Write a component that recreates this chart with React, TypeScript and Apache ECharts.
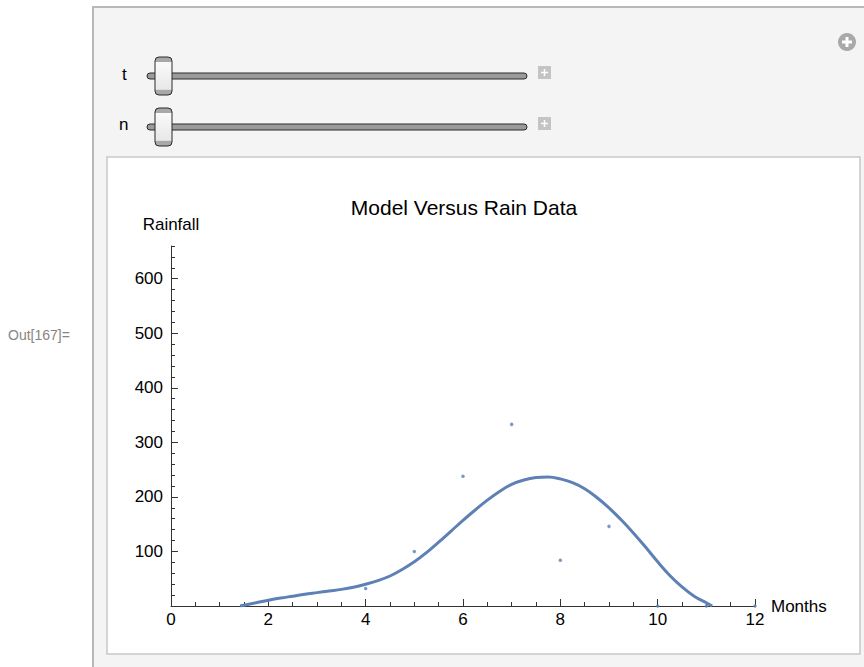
import React, { useEffect, useRef } from "react";
import * as echarts from "echarts";

// Observed rain data (month, rainfall)
const months = [4, 5, 6, 7, 8, 9, 10, 11, 12];
const rainfall = [32, 100, 238, 333, 84, 146, 0, 0, 0];

// Model curve
const modelMonths = [1.42, 1.5, 1.75, 2.0, 2.25, 2.5, 2.75, 3.0, 3.25, 3.5, 3.75, 4.0, 4.25, 4.5, 4.75, 5.0, 5.25, 5.5, 5.75, 6.0, 6.25, 6.5, 6.75, 7.0, 7.25, 7.5, 7.75, 8.0, 8.25, 8.5, 8.75, 9.0, 9.25, 9.5, 9.75, 10.0, 10.25, 10.5, 10.75, 11.0, 11.12];
const modelRain = [0, 1.5, 6, 10.5, 14.5, 18, 21.5, 24.5, 27.5, 30.5, 34.5, 40, 46.5, 55, 67, 81, 98, 117, 137, 157, 176, 194, 210, 223, 231, 235.5, 236.5, 233, 226, 215, 199, 180, 158, 134, 108, 81, 56, 35, 18, 6, 0];

// Axis ticks
const yMajorTicks = [100, 200, 300, 400, 500, 600];
const xMajorTicks = [0, 2, 4, 6, 8, 10, 12];

const FONT = "'Liberation Sans', Arial, sans-serif";
const BLUE = "#5E81B5";
const AXIS = "#333333";

function slider(y: number) {
  return [
    {
      type: "rect",
      shape: { x: 147, y: y - 3, width: 380, height: 6, r: 3 },
      style: { fill: "#9a9a9a", stroke: "#2a2a2a", lineWidth: 1 },
      z: 5,
    },
    {
      type: "rect",
      shape: { x: 155, y: y - 19, width: 17, height: 38, r: 4 },
      style: {
        fill: new echarts.graphic.LinearGradient(0, 0, 0, 1, [
          { offset: 0, color: "#a8a8a8" },
          { offset: 0.12, color: "#a8a8a8" },
          { offset: 0.14, color: "#fafafa" },
          { offset: 0.85, color: "#e8e8e8" },
          { offset: 0.88, color: "#a8a8a8" },
          { offset: 1, color: "#a8a8a8" },
        ]),
        stroke: "#2a2a2a",
        lineWidth: 1,
      },
      z: 6,
    },
    {
      type: "rect",
      shape: { x: 538, y: y - 10, width: 13, height: 13 },
      style: { fill: "#c4c4c4" },
      z: 5,
    },
    {
      type: "line",
      shape: { x1: 541, y1: y - 3.5, x2: 548, y2: y - 3.5 },
      style: { stroke: "#ffffff", lineWidth: 1.5 },
      z: 6,
    },
    {
      type: "line",
      shape: { x1: 544.5, y1: y - 7, x2: 544.5, y2: y },
      style: { stroke: "#ffffff", lineWidth: 1.5 },
      z: 6,
    },
  ];
}

export default function App() {
  const ref = useRef<HTMLDivElement>(null);

  useEffect(() => {
    if (!ref.current) return;
    const chart = echarts.init(ref.current, undefined, { renderer: "svg" });
    const curve = modelMonths.map((m, i) => [m, modelRain[i]]);
    const points = months.map((m, i) => [m, rainfall[i]]);

    chart.setOption({
      animation: false,
      backgroundColor: "#ffffff",
      textStyle: { fontFamily: FONT },
      title: {
        text: "Model Versus Rain Data",
        left: 459,
        top: 192,
        textAlign: "center",
        textStyle: { fontFamily: FONT, fontSize: 21, fontWeight: "normal", color: "#000" },
      },
      graphic: [
        // outer Manipulate panel
        {
          type: "rect",
          shape: { x: 93, y: 7, width: 780, height: 670 },
          style: { fill: "#f4f4f4", stroke: "#b8b8b8", lineWidth: 2 },
          z: -20,
        },
        // inner white pane
        {
          type: "rect",
          shape: { x: 107, y: 157, width: 753, height: 497 },
          style: { fill: "#ffffff", stroke: "#c8c8c8", lineWidth: 1.5 },
          z: -10,
        },
        {
          type: "text",
          x: 8,
          y: 335,
          style: { text: "Out[167]=", fill: "#858585", fontSize: 14, fontFamily: FONT, verticalAlign: "middle" },
        },
        {
          type: "text",
          x: 122,
          y: 74,
          style: { text: "t", fill: "#000", fontSize: 17, fontFamily: FONT, verticalAlign: "middle" },
        },
        {
          type: "text",
          x: 119,
          y: 124,
          style: { text: "n", fill: "#000", fontSize: 17, fontFamily: FONT, verticalAlign: "middle" },
        },
        ...slider(76),
        ...slider(127),
        {
          type: "circle",
          shape: { cx: 847, cy: 42, r: 9 },
          style: { fill: "#a9a9a9" },
          z: 5,
        },
        {
          type: "line",
          shape: { x1: 842, y1: 42, x2: 852, y2: 42 },
          style: { stroke: "#fff", lineWidth: 3 },
          z: 6,
        },
        {
          type: "line",
          shape: { x1: 847, y1: 37, x2: 847, y2: 47 },
          style: { stroke: "#fff", lineWidth: 3 },
          z: 6,
        },
      ],
      grid: { left: 171, right: 109, top: 246, bottom: 61, containLabel: false },
      xAxis: [
        {
          type: "value",
          min: 0,
          max: 12,
          interval: 0.5,
          name: "Months",
          nameLocation: "end",
          nameGap: 16,
          nameTextStyle: { fontFamily: FONT, fontSize: 17, color: "#000", verticalAlign: "middle", align: "left" },
          axisLine: { show: true, onZero: false, lineStyle: { color: AXIS, width: 1 } },
          axisTick: { show: true, inside: true, length: 4, lineStyle: { color: AXIS } },
          axisLabel: { show: false },
          splitLine: { show: false },
        },
        {
          type: "value",
          min: 0,
          max: 12,
          interval: 2,
          position: "bottom",
          axisLine: { show: false, onZero: false },
          axisTick: { show: true, inside: true, length: 7, lineStyle: { color: AXIS } },
          axisLabel: {
            show: true,
            margin: 5,
            fontFamily: FONT,
            fontSize: 17,
            color: "#000",
            formatter: (v: number) => (xMajorTicks.includes(v) ? String(v) : ""),
          },
          splitLine: { show: false },
        },
      ],
      yAxis: [
        {
          type: "value",
          min: 0,
          max: 660,
          interval: 20,
          name: "Rainfall",
          nameLocation: "end",
          nameGap: 22,
          nameTextStyle: { fontFamily: FONT, fontSize: 17, color: "#000", verticalAlign: "middle", align: "center" },
          axisLine: { show: true, onZero: false, lineStyle: { color: AXIS, width: 1 } },
          axisTick: { show: true, inside: true, length: 4, lineStyle: { color: AXIS } },
          axisLabel: { show: false },
          splitLine: { show: false },
        },
        {
          type: "value",
          min: 0,
          max: 660,
          interval: 100,
          position: "left",
          axisLine: { show: false, onZero: false },
          axisTick: { show: true, inside: true, length: 7, customValues: yMajorTicks, lineStyle: { color: AXIS } },
          axisLabel: {
            show: true,
            margin: 8,
            fontFamily: FONT,
            fontSize: 17,
            color: "#000",
            customValues: yMajorTicks,
            formatter: (v: number) => (yMajorTicks.includes(v) ? String(v) : ""),
          },
          splitLine: { show: false },
        },
      ],
      series: [
        {
          type: "line",
          data: curve,
          xAxisIndex: 0,
          yAxisIndex: 0,
          smooth: 0.4,
          showSymbol: false,
          clip: true,
          lineStyle: { color: BLUE, width: 3 },
          itemStyle: { color: BLUE },
          z: 3,
        },
        {
          type: "scatter",
          data: points,
          xAxisIndex: 0,
          yAxisIndex: 0,
          symbolSize: 3.5,
          itemStyle: { color: BLUE },
          z: 4,
        },
      ],
    });

    return () => chart.dispose();
  }, []);

  return (
    <div
      ref={ref}
      style={{ position: "absolute", left: 0, top: 0, width: 864, height: 667 }}
    />
  );
}
